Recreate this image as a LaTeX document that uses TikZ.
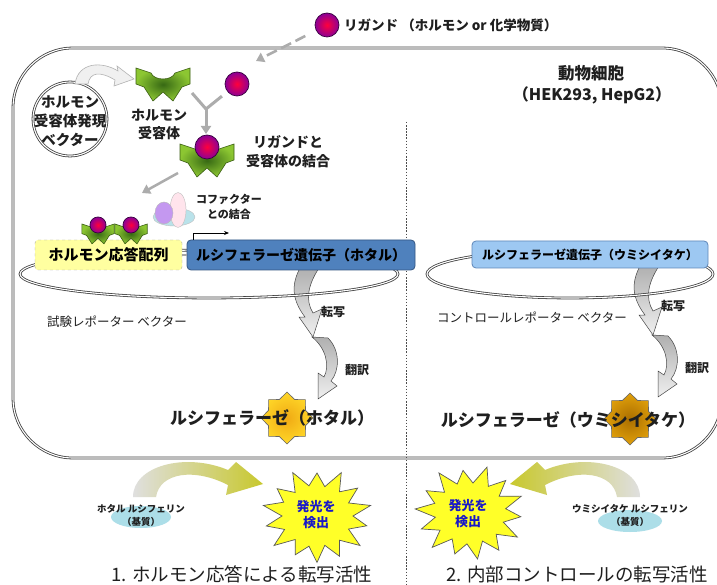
\documentclass[tikz,border=0pt]{standalone}
\usepackage{fontspec}
\setmainfont{Noto Sans CJK JP}
\usetikzlibrary{shapes.geometric,arrows.meta}

\definecolor{blueA}{RGB}{79,129,189}
\definecolor{blueAline}{RGB}{52,86,130}
\definecolor{blueB}{RGB}{157,200,242}
\definecolor{blueBline}{RGB}{95,135,185}
\definecolor{hreyellow}{RGB}{255,255,160}
\definecolor{ligcore}{RGB}{255,0,60}
\definecolor{ligrim}{RGB}{140,0,150}
\definecolor{recin}{RGB}{55,105,20}
\definecolor{recout}{RGB}{140,198,50}
\definecolor{recline}{RGB}{60,95,20}
\definecolor{glowblue}{RGB}{25,25,200}
\definecolor{substr}{RGB}{172,222,232}
\definecolor{sweep}{RGB}{200,200,45}
\definecolor{boomyellow}{RGB}{255,255,40}
\definecolor{cofcyan}{RGB}{185,226,234}
\definecolor{cofpink}{RGB}{255,228,236}
\definecolor{cofpurple}{RGB}{196,152,240}

\newcommand{\fsz}[2]{\fontsize{#1}{#2}\selectfont}

\tikzset{
  wall/.style={draw=black!75, double=white, double distance=1.1pt, line width=0.8pt},
  lig/.style={circle, inner sep=0pt, minimum size=#1, draw=black!60!ligrim,
    line width=0.7pt, inner color=ligcore, outer color=ligrim},
  lbl/.style={inner sep=0pt, align=center, text=black!88},
  grayarrow/.style={draw=gray!65, line width=3pt, -{Triangle[width=10pt,length=8pt]}},
  genebox/.style={rectangle, rounded corners=4pt, line width=0.8pt, inner sep=0pt, text=black},
  hrebox/.style={rectangle, rounded corners=3pt, draw=gray!70, dashed, fill=hreyellow,
    minimum width=147pt, minimum height=30pt, inner sep=0pt, font=\bfseries\fsz{15}{18}},
  lucistar/.style={star, star points=8, star point ratio=1.3, minimum size=52pt,
    inner sep=0pt, draw=black!60, line width=0.6pt},
  boom/.style={fill=boomyellow, draw=black!65, line width=0.7pt, line join=miter},
  substrate/.style={ellipse, fill=substr, inner sep=0pt},
  proc/.style={top color=gray!62, bottom color=gray!12, draw=gray!55!black, line width=0.5pt},
  receptor/.pic={
    \shadedraw[inner color=recin, outer color=recout, draw=recline, line width=0.6pt]
      (-27,-15) -- (-12,-10) .. controls (-9,-2) and (9,-2) .. (12,-10) -- (27,-15)
      -- (27,1) -- (19,4) -- (10,18) -- (0,9) -- (-10,18) -- (-19,4) -- (-27,1) -- cycle;
  },
}

\begin{document}
\begin{tikzpicture}[x=1pt,y=-1pt]
\useasboundingbox (0,0) rectangle (717,585);
\clip (0,0) rectangle (717,585);
\fill[white] (0,0) rectangle (717,585);

% cell membrane
\draw[wall, rounded corners=60pt] (13,48) rectangle (722,458);

% divider between the two assays
\draw[black!70, line width=0.8pt, dash pattern=on 1.5pt off 1.6pt] (406,122) -- (406,585);

% ligand entering the cell
\node[lig=24pt] (ligtop) at (327,25) {};
\node[lbl, anchor=west, font=\bfseries\fsz{13.5}{15}] (ligtxt) at (344,25) {リガンド （ホルモン or 化学物質）};
\coordinate (entry) at (256,61);
\draw[gray!65, line width=2.6pt, dash pattern=on 11pt off 5pt, shorten <=12pt,
  -{Triangle[width=10pt,length=8pt]}] (ligtop) -- (entry);

% cell label
\node[lbl, font=\bfseries\fsz{16.5}{19}] (celltxt) at (591,73) {動物細胞};
\node[lbl, font=\bfseries\fsz{16}{19}] (cellname) at (592,95) {（HEK293, HepG2）};

% receptor expression vector
\node[circle, wall, minimum size=74pt, inner sep=0pt] (vec) at (70,119) {};
\node[lbl, font=\bfseries\fsz{14.5}{19}] (vectxt) at (70,121) {ホルモン\\受容体発現\\ベクター};
\draw[fill=gray!12, draw=gray!60, line width=0.6pt]
  (75,84) .. controls (78,62) and (102,61) .. (118,71) -- (117,66) -- (134,79)
  -- (114,86) -- (115,80) .. controls (100,71) and (90,72) .. (88,84) -- cycle;

% free receptor
\pic at (163,83) {receptor};
\node[lbl, font=\bfseries\fsz{14}{18}] (rectxt) at (159,124) {ホルモン\\受容体};

% ligand meeting the receptor
\node[lig=24pt] (lig2) at (237,84) {};
\coordinate (ya) at (192,93);
\coordinate (yc) at (206,109);
\coordinate (yd) at (206,134);
\draw[gray!65, line width=3pt] (ya) -- (yc);
\draw[gray!65, line width=3pt, shorten >=7pt] (yc) -- (lig2);
\draw[grayarrow] (yc) -- (yd);

% ligand-receptor complex
\pic at (207,159) {receptor};
\node[lig=24pt] (lig3) at (207,147) {};
\node[lbl, font=\bfseries\fsz{14}{19}] (bindtxt) at (288,152) {リガンドと\\受容体の結合};
\coordinate (bfrom) at (178,173);
\coordinate (bto) at (142,193);
\draw[grayarrow, line width=2.5pt] (bfrom) -- (bto);

% transcription / translation arrows, firefly side
\draw[proc] (300,268) -- (319,268) .. controls (308,285) and (305,300) .. (313,313)
  -- (322,309) -- (313,337) -- (299,317) -- (305,317)
  .. controls (292,300) and (291,285) .. (300,268) -- cycle;
\draw[proc] (312,337) -- (328,338) .. controls (340,350) and (340,370) .. (331,381)
  -- (337,386) -- (318,399) -- (318,373) -- (324,377)
  .. controls (330,366) and (326,348) .. (312,337) -- cycle;
% same arrows, Renilla side
\begin{scope}[shift={(340,-2)}]
\draw[proc] (300,268) -- (319,268) .. controls (308,285) and (305,300) .. (313,313)
  -- (322,309) -- (313,337) -- (299,317) -- (305,317)
  .. controls (292,300) and (291,285) .. (300,268) -- cycle;
\draw[proc] (312,337) -- (328,338) .. controls (340,350) and (340,370) .. (331,381)
  -- (337,386) -- (318,399) -- (318,373) -- (324,377)
  .. controls (330,366) and (326,348) .. (312,337) -- cycle;
\end{scope}
\node[lbl, font=\bfseries\fsz{12}{14}] (txA) at (333,312) {転写};
\node[lbl, font=\bfseries\fsz{12}{14}] (tlA) at (357,370) {翻訳};
\node[lbl, font=\bfseries\fsz{12}{14}] (txB) at (673,306) {転写};
\node[lbl, font=\bfseries\fsz{12}{14}] (tlB) at (697,368) {翻訳};

% plasmids
\draw[wall] (209,274) ellipse [x radius=189, y radius=24];
\draw[wall] (570,274) ellipse [x radius=143, y radius=24];

% test reporter elements
\node[hrebox] (hre) at (108.5,255) {ホルモン応答配列};
\node[genebox, fill=blueA, draw=blueAline, minimum width=228pt, minimum height=30pt,
  font=\bfseries\fsz{14}{16}] (lucA) at (301,255) {ルシフェラーゼ遺伝子（ホタル）};
\draw[gray!70, line width=1.5pt] (hre.east) -- (lucA.west);

% complexes bound to the response element
\pic[scale=0.6] at (98,233) {receptor};
\node[lig=16pt] (lig4) at (98,225) {};
\pic[scale=0.6] at (131,233) {receptor};
\node[lig=16pt] (lig5) at (131,225) {};

% cofactors
\node[ellipse, fill=cofcyan, draw=gray!50, line width=0.4pt, minimum width=42pt, minimum height=18pt, inner sep=0pt] (cofC) at (174,217) {};
\node[ellipse, fill=cofpink, draw=gray!50, line width=0.4pt, minimum width=16pt, minimum height=35pt, inner sep=0pt] (cofB) at (178,210) {};
\node[ellipse, fill=cofpurple, draw=gray!55, line width=0.4pt, minimum width=18pt, minimum height=22pt, inner sep=0pt] (cofA) at (164,213) {};
\node[lbl, font=\bfseries\fsz{11}{15}] (coftxt) at (229,207) {コファクター\\との結合};

% transcription start
\coordinate (pa) at (193,240);
\coordinate (pb) at (193,233);
\coordinate (pc) at (229,233);
\draw[black, line width=0.8pt, -{Stealth[length=5pt,width=4pt]}] (pa) -- (pb) -- (pc);

% control reporter gene
\node[genebox, fill=blueB, draw=blueBline, minimum width=236pt, minimum height=27pt,
  font=\bfseries\fsz{12}{14}] (lucB) at (590,254.5) {ルシフェラーゼ遺伝子（ウミシイタケ）};

% vector names
\node[lbl, font=\fsz{12.5}{15}] (testvec) at (117,322) {試験レポーター ベクター};
\node[lbl, font=\fsz{12.5}{15}] (ctrlvec) at (532,317) {コントロールレポーター ベクター};

% luciferase proteins
\node[lucistar, inner color={rgb,255:red,240;green,170;blue,20}, outer color={rgb,255:red,255;green,215;blue,40}] (starA) at (287,418) {};
\node[lucistar, inner color={rgb,255:red,170;green,110;blue,0}, outer color={rgb,255:red,225;green,160;blue,10}] (starB) at (630,419) {};
\node[lbl, font=\bfseries\fsz{17}{20}] (lucAtxt) at (272,418) {ルシフェラーゼ（ホタル）};
\node[lbl, font=\bfseries\fsz{17}{20}] (lucBtxt) at (568,420) {ルシフェラーゼ（ウミシイタケ）};

% substrate sweep arrows
\draw[left color=gray!25, right color=sweep, draw=none]
  (133,497) .. controls (133,466) and (185,452) .. (228,470) -- (236,462) -- (263,484)
  -- (226,495) -- (228,485) .. controls (195,468) and (160,472) .. (156,497) -- cycle;
\draw[left color=sweep, right color=gray!25, draw=none]
  (640,497) .. controls (640,466) and (588,452) .. (545,470) -- (537,462) -- (510,484)
  -- (547,495) -- (545,485) .. controls (578,468) and (613,472) .. (617,497) -- cycle;

% substrates
\node[substrate, minimum width=60pt, minimum height=22pt] (subA) at (141,517) {};
\node[lbl, font=\bfseries\fsz{9.5}{13}] (subAtxt) at (141,515) {ホタル ルシフェリン\\（基質）};
\node[substrate, minimum width=64pt, minimum height=22pt] (subB) at (630,521) {};
\node[lbl, font=\bfseries\fsz{9.5}{13}] (subBtxt) at (630,515) {ウミシイタケ ルシフェリン\\（基質）};

% light emission bursts
\begin{scope}[shift={(317,516)}, yscale=0.86]
\draw[boom] (90:54) -- (102.9:36) -- (115.7:50) -- (128.6:35) -- (141.4:55) -- (154.3:36)
  -- (167.1:52) -- (180:35) -- (192.9:55) -- (205.7:37) -- (218.6:51) -- (231.4:35)
  -- (244.3:56) -- (257.1:36) -- (270:50) -- (282.9:35) -- (295.7:56) -- (308.6:36)
  -- (321.4:52) -- (334.3:35) -- (347.1:55) -- (360:36) -- (12.9:51) -- (25.7:35)
  -- (38.6:55) -- (51.4:36) -- (64.3:52) -- (77.1:35) -- cycle;
\end{scope}
\begin{scope}[shift={(470,513)}, yscale=0.86, rotate=8]
\draw[boom] (90:54) -- (102.9:36) -- (115.7:50) -- (128.6:35) -- (141.4:55) -- (154.3:36)
  -- (167.1:52) -- (180:35) -- (192.9:55) -- (205.7:37) -- (218.6:51) -- (231.4:35)
  -- (244.3:56) -- (257.1:36) -- (270:50) -- (282.9:35) -- (295.7:56) -- (308.6:36)
  -- (321.4:52) -- (334.3:35) -- (347.1:55) -- (360:36) -- (12.9:51) -- (25.7:35)
  -- (38.6:55) -- (51.4:36) -- (64.3:52) -- (77.1:35) -- cycle;
\end{scope}
\node[lbl, text=glowblue, font=\bfseries\fsz{13}{16}] (glowA) at (316,515) {発光を\\検出};
\node[lbl, text=glowblue, font=\bfseries\fsz{13}{16}] (glowB) at (468,514) {発光を\\検出};

% assay titles
\node[lbl, font=\fsz{18.5}{22}] (titleA) at (242,574) {1. ホルモン応答による転写活性};
\node[lbl, font=\fsz{18.5}{22}] (titleB) at (577,574) {2. 内部コントロールの転写活性};
\end{tikzpicture}
\end{document}
